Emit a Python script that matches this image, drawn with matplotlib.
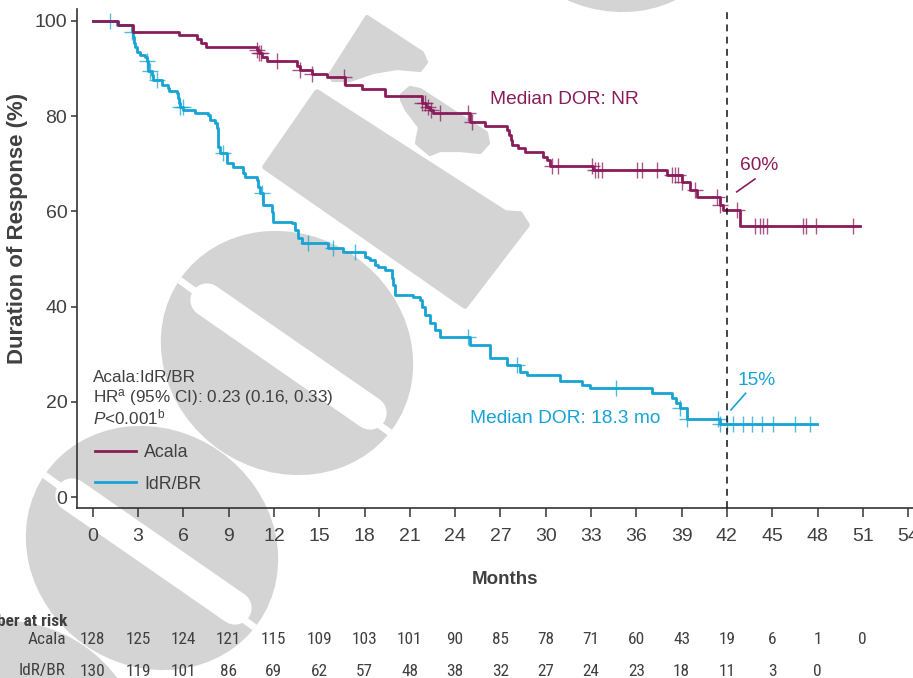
import matplotlib
matplotlib.use("Agg")
import matplotlib.pyplot as plt
import numpy as np
from matplotlib.patches import Ellipse, Polygon
from matplotlib.lines import Line2D
from matplotlib.transforms import Affine2D, blended_transform_factory
from matplotlib import font_manager

# ---------------- data ----------------
acala_drop_t = [1.68, 2.67, 5.72, 6.91, 7.17, 7.50, 10.88, 11.01, 11.21, 11.54, 13.53, 13.73,
                14.52, 15.52, 16.71, 17.83, 19.36, 21.81, 22.07, 22.34, 22.54, 24.99, 25.99,
                27.44, 27.58, 27.71, 27.77, 28.17, 28.63, 29.83, 30.11, 30.28, 33.13, 38.03,
                39.02, 39.55, 40.01, 41.54, 41.74, 42.87]
acala_drop_s = [99.2, 97.6, 97.0, 96.2, 95.4, 94.6, 93.9, 93.2, 92.5, 91.5, 90.5, 89.7,
                88.9, 88.2, 86.6, 85.8, 84.2, 82.8, 81.9, 81.3, 80.7, 78.8, 78.0,
                77.1, 76.1, 75.0, 74.0, 73.3, 72.5, 71.5, 70.8, 69.5, 68.7, 67.6,
                66.2, 64.5, 63.1, 61.3, 60.3, 56.9]
acala_end = 50.82
acala_cens = [10.88, 11.01, 11.14, 12.21, 13.73, 14.52, 16.64, 21.81, 22.0, 22.2, 22.4, 23.0,
              24.85, 25.12, 30.42, 30.81, 33.07, 33.27, 33.47, 33.73, 36.05, 36.38, 37.37,
              38.36, 38.56, 38.76, 39.02, 39.88, 41.34, 41.54, 42.67, 43.86, 44.19, 44.39,
              44.66, 47.04, 47.24, 47.9, 50.35]

idr_drop_t = [1.61, 2.60, 2.67, 2.74, 2.80, 2.91, 3.13, 3.46, 3.58, 3.68, 3.91, 4.01, 4.59,
              5.01, 5.07, 5.56, 5.67, 5.72, 5.78, 6.00, 6.77, 7.66, 7.77, 8.10, 8.21, 8.32,
              8.43, 8.87, 9.31, 9.97, 10.09, 10.86, 10.97, 11.08, 11.30, 11.85, 11.96, 13.18,
              13.40, 13.62, 13.84, 15.60, 16.60, 18.03, 18.25, 18.36, 18.70, 18.91, 19.36,
              19.80, 19.91, 20.02, 21.23, 21.68, 21.79, 22.01, 22.34, 22.67, 23.0, 24.99,
              26.32, 27.42, 28.30, 28.74, 30.95, 32.38, 32.93, 37.02, 38.36, 38.62, 38.89,
              39.36, 41.54]
idr_drop_s = [99.2, 97.7, 96.6, 95.4, 94.6, 93.5, 92.9, 92.4, 91.5, 89.4, 88.7, 87.6, 86.6,
              85.9, 85.2, 84.8, 83.8, 82.8, 82.0, 81.3, 80.6, 80.3, 79.2, 78.5, 77.5, 73.6,
              72.2, 70.1, 69.4, 68.0, 67.3, 66.6, 65.2, 63.8, 61.3, 59.9, 57.8, 57.5,
              56.1, 54.4, 53.3, 52.3, 51.5, 50.5, 50.2, 49.8, 48.7, 48.4, 47.7,
              46.0, 44.5, 42.4, 42.1, 41.4, 40.0, 38.2, 36.5, 35.1, 33.7, 31.9,
              29.1, 27.7, 26.3, 25.6, 24.4, 23.5, 22.8, 21.8, 20.8, 19.8, 18.7,
              16.3, 15.3]
idr_end = 47.97
idr_cens = [1.15, 2.60, 3.60, 3.79, 4.26, 5.78, 5.98, 8.63, 11.21, 14.26, 15.91, 17.37, 24.85,
            28.10, 34.65, 38.89, 39.36, 41.42, 41.54, 42.0, 42.4, 43.07, 43.66, 44.32, 45.05,
            46.51, 47.5]

risk_months = [0, 3, 6, 9, 12, 15, 18, 21, 24, 27, 30, 33, 36, 39, 42, 45, 48, 51]
risk_acala = [128, 125, 124, 121, 115, 109, 103, 101, 90, 85, 78, 71, 60, 43, 19, 6, 1, 0]
risk_idr = [130, 119, 101, 86, 69, 62, 57, 48, 38, 32, 27, 24, 23, 18, 11, 3, 0]

x_ticks = list(range(0, 55, 3))
y_ticks = [0, 20, 40, 60, 80, 100]
landmark_month = 42

# ---------------- style ----------------
MAROON = "#8A1C5B"
CYAN = "#17A3D3"
GREY_TXT = "#404040"
SPINE = "#333333"
WM = "#d4d4d4"

plt.rcParams["font.family"] = ["Liberation Sans", "DejaVu Sans"]
plt.rcParams["mathtext.fontset"] = "custom"
plt.rcParams["mathtext.rm"] = "Liberation Sans"
plt.rcParams["mathtext.it"] = "Liberation Sans:italic"

NARROW = None
for fam in ["Liberation Sans Narrow", "Arial Narrow", "Roboto Condensed"]:
    try:
        font_manager.findfont(fam, fallback_to_default=False)
        NARROW = [fam, "Liberation Sans"]
        break
    except Exception:
        pass
if NARROW is None:
    NARROW = ["Liberation Sans"]
    RISK_FS = 11.2
else:
    RISK_FS = 12.4

W, H = 913, 678
fig = plt.figure(figsize=(W / 100, H / 100), dpi=100)
fig.patch.set_facecolor("white")

# pixel transform (image coords, y down)
pix = Affine2D().scale(1 / W, -1 / H).translate(0, 1) + fig.transFigure

# ---------------- watermark (background decoration) ----------------
def zero_shape(cx, cy):
    e = Ellipse((cx, cy), 260, 236, angle=35, transform=pix, facecolor=WM,
                edgecolor="none", zorder=-3)
    fig.add_artist(e)
    pill = Line2D([cx - 80, cx + 83], [cy - 53, cy + 60], transform=pix, color="white",
                  lw=24, solid_capstyle="round", zorder=-2)
    fig.add_artist(pill)
    pill.set_clip_path(e)
    cut = Line2D([cx - 160, cx + 160], [cy - 111, cy + 121], transform=pix, color="white",
                 lw=5, zorder=-2)
    fig.add_artist(cut)
    cut.set_clip_path(e)

for c in [(287, 353), (152, 548), (17, 743), (611, -110)]:
    zero_shape(*c)

band = Polygon([(317, 92), (265, 167), (465, 306), (527, 225), (520, 214), (505, 213)],
               closed=True, transform=pix, facecolor=WM, edgecolor=WM, lw=4,
               joinstyle="round", zorder=-3)
fig.add_artist(band)
flag = Polygon([(367, 17), (422, 53), (426, 62), (420, 70), (397, 68), (373, 72), (350, 80),
                (333, 80), (330, 75)], closed=True, transform=pix, facecolor=WM,
               edgecolor=WM, lw=3, joinstyle="round", zorder=-3)
fig.add_artist(flag)
blob = Polygon([(402, 95), (410, 88), (420, 90), (486, 133), (488, 143), (480, 152), (460, 150),
                (440, 150), (430, 154), (417, 143), (420, 127), (407, 110), (402, 100)],
               closed=True, transform=pix, facecolor=WM, edgecolor=WM, lw=3,
               joinstyle="round", zorder=-3)
fig.add_artist(blob)

# ---------------- axes ----------------
ax = fig.add_axes([77 / W, 170 / H, 861.3 / W, 499 / H])
ax.patch.set_alpha(0)
ax.set_xlim(-1.04, 56)
ax.set_ylim(-2.3, 102.5)


def km_arrays(drop_t, drop_s, end):
    t = [0] + list(drop_t) + [end]
    s = [100] + list(drop_s) + [drop_s[-1]]
    return t, s


def level_at(drop_t, drop_s, times):
    k = np.searchsorted(np.array(drop_t), np.array(times), side="right")
    full = np.concatenate([[100.0], np.array(drop_s, dtype=float)])
    return full[k]


for dt, ds, end, cens, col, z in [(idr_drop_t, idr_drop_s, idr_end, idr_cens, CYAN, 3),
                                   (acala_drop_t, acala_drop_s, acala_end, acala_cens, MAROON, 4)]:
    t, s = km_arrays(dt, ds, end)
    ax.step(t, s, where="post", color=col, lw=2.0, zorder=z)
    ax.plot(cens, level_at(dt, ds, cens), ls="none", marker="+", ms=11, mew=1.0,
            color=col, alpha=0.75, zorder=z)

ax.axvline(landmark_month, color="#111111", lw=1.1, ls=(0, (4.5, 3.5)), zorder=5)

# annotations
ax.text(26.32, 83.4, "Median DOR: NR", color=MAROON, fontsize=13.8, va="center", ha="left")
ax.text(24.99, 16.6, "Median DOR: 18.3 mo", color=CYAN, fontsize=13.8, va="center", ha="left")
ax.text(42.86, 69.7, "60%", color=MAROON, fontsize=13.8, va="center", ha="left")
ax.text(42.73, 24.4, "15%", color=CYAN, fontsize=13.8, va="center", ha="left")
ax.plot([42.65, 43.86], [64.1, 66.8], color=MAROON, lw=1.2)
ax.plot([42.27, 43.24], [18.3, 21.8], color=CYAN, lw=1.2)

ax.text(0, 25.2, "Acala:IdR/BR", color=GREY_TXT, fontsize=12.3, va="center", ha="left")
ax.text(0, 21.0, r"HR$^{\mathrm{a}}$ (95% CI): 0.23 (0.16, 0.33)", color=GREY_TXT,
        fontsize=12.3, va="center", ha="left")
ax.text(0, 16.8, r"$\mathit{P}$<0.001$^{\mathrm{b}}$", color=GREY_TXT, fontsize=12.3,
        va="center", ha="left")

handles = [Line2D([], [], color=MAROON, lw=2.0), Line2D([], [], color=CYAN, lw=2.0)]
leg = ax.legend(handles, ["Acala", "IdR/BR"], loc="center left",
                bbox_to_anchor=(0.0209, 0.079), frameon=False, fontsize=12.8,
                handlelength=2.3, handletextpad=0.45, labelspacing=0.8,
                borderpad=0, borderaxespad=0)
for txt in leg.get_texts():
    txt.set_color(GREY_TXT)

# spines / ticks
for side in ["top", "right"]:
    ax.spines[side].set_visible(False)
for side in ["left", "bottom"]:
    ax.spines[side].set_color(SPINE)
    ax.spines[side].set_linewidth(1.2)

ax.set_xticks(x_ticks)
ax.set_yticks(y_ticks)
ax.tick_params(axis="x", length=6.5, width=1.1, pad=8, labelsize=14, color=SPINE,
               labelcolor=GREY_TXT)
ax.tick_params(axis="y", length=4, width=1.1, pad=3, labelsize=14, color=SPINE,
               labelcolor=GREY_TXT)

fig.text(505 / W, 1 - 579 / H, "Months", fontsize=13.5, fontweight="bold", color=GREY_TXT,
         ha="center", va="center")
fig.text(18 / W, 1 - 228 / H, "Duration of Response (%)", fontsize=16, fontweight="bold",
         color=GREY_TXT, ha="center", va="center", rotation=90)

# number at risk table
tr = blended_transform_factory(ax.transData, fig.transFigure)
fig.text(67 / W, 1 - 621 / H, "Number at risk", fontsize=RISK_FS, fontweight="bold",
         color=GREY_TXT, ha="right", va="center", family=NARROW)
fig.text(66 / W, 1 - 639 / H, "Acala", fontsize=RISK_FS, color=GREY_TXT, ha="right",
         va="center", family=NARROW)
fig.text(66 / W, 1 - 671 / H, "IdR/BR", fontsize=RISK_FS, color=GREY_TXT, ha="right",
         va="center", family=NARROW)
for m, v in zip(risk_months, risk_acala):
    ax.text(m, 1 - 639 / H, str(v), transform=tr, fontsize=RISK_FS, color=GREY_TXT,
            ha="center", va="center", family=NARROW, clip_on=False)
for m, v in zip(risk_months, risk_idr):
    ax.text(m, 1 - 671 / H, str(v), transform=tr, fontsize=RISK_FS, color=GREY_TXT,
            ha="center", va="center", family=NARROW, clip_on=False)

fig.savefig("out.png", dpi=100)
